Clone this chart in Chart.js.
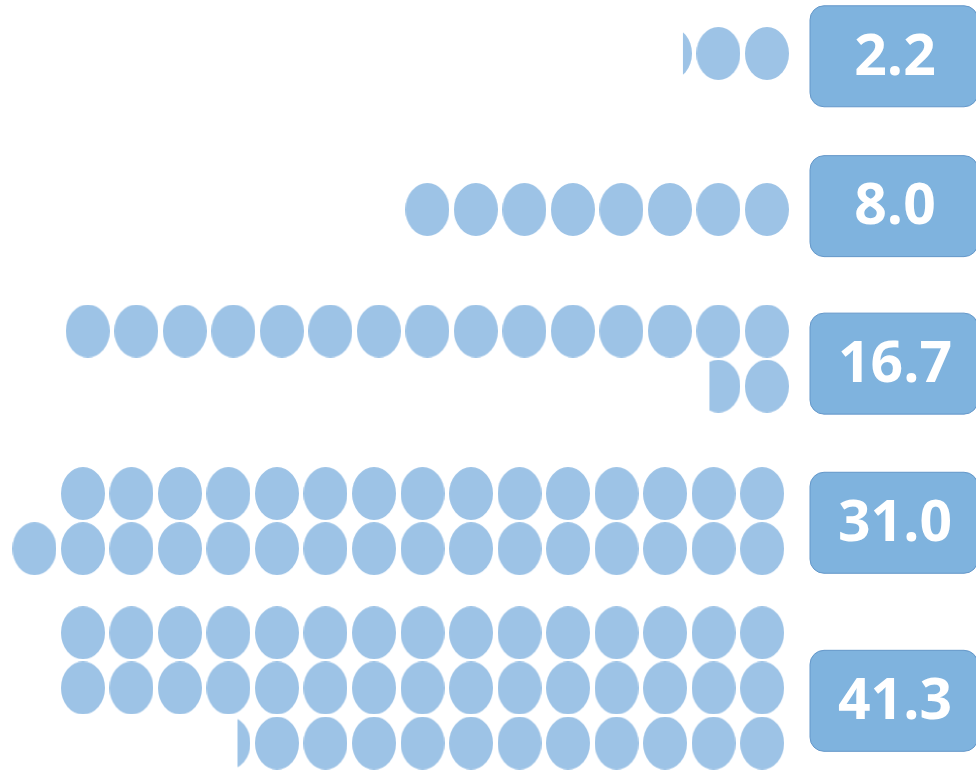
<!DOCTYPE html>
<html>
<head>
<meta charset="utf-8">
<script src="https://cdn.jsdelivr.net/npm/chart.js@4"></script>
<style>
  html, body { margin: 0; padding: 0; background: #fff; }
  #wrap { width: 976px; height: 772px; position: relative; }
</style>
</head>
<body>
<div id="wrap"><canvas id="iconChart"></canvas></div>
<script>
// values shown in the boxes
var values = [2.2, 8.0, 16.7, 31.0, 41.3];
var valueLabels = ['2.2', '8.0', '16.7', '31.0', '41.3'];
// how each value is split over lines of icons (one icon = 1 unit)
var lineSplits = [
    [2.2],
    [8.0],
    [15, 1.7],
    [15, 16],
    [15, 15, 11.3]
];

// layout (y in line slots, x in icon widths counted from the right)
var rowY = [0.955, 3.741, 5.911, 8.813, 11.30];
var lineGap = 0.985;
var rowShiftX = [0, 0, 0, 0.1, 0.1];
var boxOffsetY = [0.05, -0.06, 0.09, 0.03, 0.23];

var iconColor = '#9DC3E6';
var boxColor = '#7FB3DE';
var boxBorder = '#6497C9';

var iconCache = {};
function iconFor(frac) {
    var key = frac.toFixed(2);
    if (iconCache[key]) return iconCache[key];
    var c = document.createElement('canvas');
    c.width = 44;
    c.height = 53;
    var g = c.getContext('2d');
    g.fillStyle = iconColor;
    g.beginPath();
    g.ellipse(22, 26.5, 22, 26.5, 0, 0, Math.PI * 2);
    g.fill();
    if (frac < 1) {
        g.clearRect(0, 0, Math.round(44 * (1 - frac)), 53);
    }
    iconCache[key] = c;
    return c;
}

var points = [];
lineSplits.forEach(function(lines, r) {
    lines.forEach(function(count, j) {
        var full = Math.floor(count + 1e-9);
        var frac = count - full;
        for (var k = 0; k < full; k++) {
            points.push({ x: k + rowShiftX[r], y: rowY[r] + j * lineGap, f: 1 });
        }
        if (frac > 0.01) {
            points.push({ x: full + rowShiftX[r], y: rowY[r] + j * lineGap, f: frac });
        }
    });
});

var valueBoxes = {
    id: 'valueBoxes',
    afterDatasetsDraw: function(chart) {
        var ctx = chart.ctx;
        var area = chart.chartArea;
        var yScale = chart.scales.y;
        values.forEach(function(v, r) {
            var n = lineSplits[r].length;
            var cy = yScale.getPixelForValue(rowY[r] + (n - 1) * lineGap / 2 + boxOffsetY[r]);
            var x = area.right - 166, w = 168, h = 101;
            var y = cy - h / 2;
            ctx.save();
            ctx.beginPath();
            ctx.roundRect(x, y, w, h, 14);
            ctx.fillStyle = boxColor;
            ctx.fill();
            ctx.lineWidth = 1;
            ctx.strokeStyle = boxBorder;
            ctx.stroke();
            ctx.fillStyle = '#ffffff';
            ctx.font = 'bold 57px "Open Sans", "Liberation Sans", sans-serif';
            ctx.textAlign = 'center';
            ctx.textBaseline = 'middle';
            ctx.fillText(valueLabels[r], x + w / 2 + 1, cy + 2);
            ctx.restore();
        });
    }
};

new Chart(document.getElementById('iconChart').getContext('2d'), {
    type: 'scatter',
    data: {
        datasets: [{
            data: points,
            pointStyle: function(c) { return iconFor(c.raw ? c.raw.f : 1); },
            pointRadius: 1,
            pointHoverRadius: 1,
            clip: false
        }]
    },
    options: {
        responsive: true,
        maintainAspectRatio: false,
        animation: false,
        events: [],
        layout: { padding: 0, autoPadding: false },
        scales: {
            x: { type: 'linear', reverse: true, min: -4.31, max: 15.81, display: false },
            y: { type: 'linear', reverse: true, min: 0, max: 13.786, display: false }
        },
        plugins: {
            legend: { display: false },
            tooltip: { enabled: false }
        }
    },
    plugins: [valueBoxes]
});
</script>
</body>
</html>
